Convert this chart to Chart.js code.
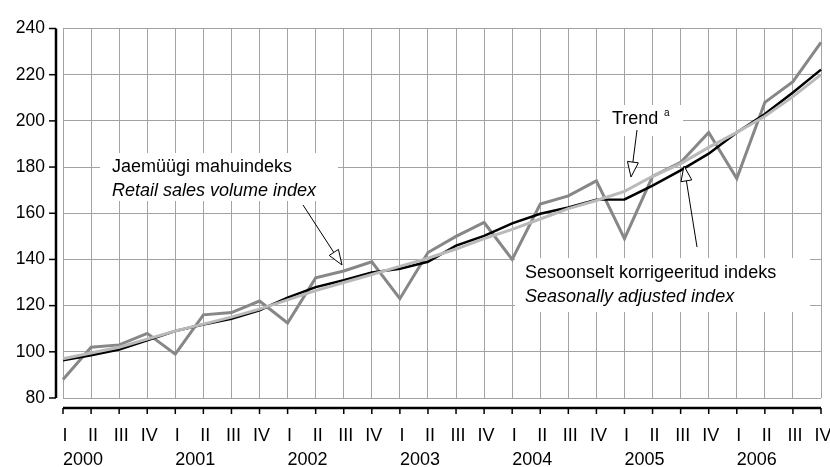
<!DOCTYPE html>
<html>
<head>
<meta charset="utf-8">
<script src="https://cdn.jsdelivr.net/npm/chart.js@4.4.0/dist/chart.umd.min.js"></script>
<style>
  html, body { margin: 0; padding: 0; background: #fff; }
  #wrap { width: 830px; height: 467px; }
</style>
</head>
<body>
<div id="wrap"><canvas id="myChart" width="830" height="467"></canvas></div>
<script>
// quarters and years along the x axis
const quarters = ['I', 'II', 'III', 'IV'];
const years = ['2000', '2001', '2002', '2003', '2004', '2005', '2006'];

// Jaemüügi mahuindeks / Retail sales volume index
const retailIndex = [
    88, 102, 103, 108,
    99, 116, 117, 122,
    112.5, 132, 135, 139,
    123, 143, 150, 156,
    140, 164, 167.5, 174,
    149, 176, 182, 195,
    175, 208, 217, 234
];
// Sesoonselt korrigeeritud indeks / Seasonally adjusted index
const seasonallyAdjusted = [
    96.3, 98.5, 101, 105,
    109, 111.8, 114.3, 118,
    123.5, 128, 131, 134.3,
    136, 139, 146, 150.2,
    155.6, 159.8, 162.5, 165.9,
    166, 172, 178.6, 185.8,
    195, 203, 212.3, 222.2
];
// Trend
const trend = [
    97, 99.5, 102, 105.5,
    109, 112, 115, 118.5,
    122.5, 126.5, 130, 133.5,
    137, 140.5, 144.5, 149,
    153, 157.5, 162, 165.5,
    169.5, 176, 181.5, 188.5,
    195, 202, 210.5, 220
];

const yMin = 80, yMax = 240, yStep = 20;

const labels = [];
years.forEach(y => quarters.forEach(q => labels.push(y + ' ' + q)));

const FONT = '"Liberation Sans", Arial, sans-serif';

// axes drawn by hand: offset y axis line and the x axis line below the plot
const axesPlugin = {
    id: 'axes',
    beforeDatasetsDraw(chart) {
        const ctx = chart.ctx;
        // white boxes behind the annotation texts
        ctx.save();
        ctx.fillStyle = '#fff';
        ctx.fillRect(100, 153, 238, 48);
        ctx.fillRect(600, 105, 83, 31);
        ctx.fillRect(515, 258, 295, 54);
        ctx.restore();
    },
    afterDraw(chart) {
        const ctx = chart.ctx;
        const xs = chart.scales.x, ys = chart.scales.y;
        const area = chart.chartArea;
        ctx.save();
        ctx.strokeStyle = '#000';

        // y axis
        const ax = area.left - 7;
        ctx.lineWidth = 2.5;
        ctx.beginPath();
        ctx.moveTo(ax, ys.getPixelForValue(yMax));
        ctx.lineTo(ax, ys.getPixelForValue(yMin));
        ctx.stroke();
        ctx.lineWidth = 1.5;
        for (let v = yMin; v <= yMax; v += yStep) {
            const py = ys.getPixelForValue(v);
            ctx.beginPath();
            ctx.moveTo(ax - 7, py);
            ctx.lineTo(ax, py);
            ctx.stroke();
        }

        // x axis
        const ay = area.bottom + 10;
        ctx.lineWidth = 2.5;
        ctx.beginPath();
        ctx.moveTo(xs.getPixelForValue(0), ay);
        ctx.lineTo(xs.getPixelForValue(labels.length - 1), ay);
        ctx.stroke();
        ctx.lineWidth = 1.5;
        ctx.fillStyle = '#000';
        ctx.font = '18px ' + FONT;
        ctx.textBaseline = 'middle';
        for (let i = 0; i < labels.length; i++) {
            const px = xs.getPixelForValue(i);
            ctx.beginPath();
            ctx.moveTo(px, ay);
            ctx.lineTo(px, ay + 6);
            ctx.stroke();
            ctx.textAlign = 'center';
            ctx.fillText(quarters[i % 4], px + 2, ay + 28);
            if (i % 4 === 0) {
                ctx.textAlign = 'left';
                ctx.fillText(years[i / 4], px, ay + 52);
            }
        }

        // annotation texts
        ctx.textBaseline = 'alphabetic';
        ctx.textAlign = 'left';
        ctx.font = '18px ' + FONT;
        ctx.fillText('Jaemüügi mahuindeks', 112, 172);
        ctx.fillText('Trend', 612, 124);
        ctx.fillText('Sesoonselt korrigeeritud indeks', 525, 278);
        ctx.font = 'italic 18px ' + FONT;
        ctx.fillText('Retail sales volume index', 112, 196);
        ctx.fillText('Seasonally adjusted index', 525, 302);
        ctx.font = '10px ' + FONT;
        ctx.fillText('a', 664, 116);

        // arrows
        const arrow = (x1, y1, x2, y2) => {
            const a = Math.atan2(y2 - y1, x2 - x1);
            const len = 15, hw = 5.5;
            const bx = x2 - len * Math.cos(a), by = y2 - len * Math.sin(a);
            ctx.lineWidth = 1;
            ctx.beginPath();
            ctx.moveTo(x1, y1);
            ctx.lineTo(bx, by);
            ctx.stroke();
            ctx.beginPath();
            ctx.moveTo(x2, y2);
            ctx.lineTo(bx + hw * Math.sin(a), by - hw * Math.cos(a));
            ctx.lineTo(bx - hw * Math.sin(a), by + hw * Math.cos(a));
            ctx.closePath();
            ctx.fillStyle = '#fff';
            ctx.fill();
            ctx.stroke();
        };
        arrow(303, 205, 342, 265);
        arrow(637, 130, 631, 177);
        arrow(697, 247, 684, 166);

        ctx.restore();
    }
};

const ctx = document.getElementById('myChart').getContext('2d');
const myChart = new Chart(ctx, {
    type: 'line',
    data: {
        labels: labels,
        datasets: [{
            label: 'Trend',
            data: trend,
            borderColor: '#b9b9b9',
            borderWidth: 3,
            order: 1
        }, {
            label: 'Sesoonselt korrigeeritud indeks',
            data: seasonallyAdjusted,
            borderColor: '#000',
            borderWidth: 2.5,
            order: 2
        }, {
            label: 'Jaemüügi mahuindeks',
            data: retailIndex,
            borderColor: '#878787',
            borderWidth: 3,
            order: 3
        }]
    },
    options: {
        responsive: false,
        animation: false,
        devicePixelRatio: 1,
        elements: {
            point: { radius: 0 },
            line: { tension: 0, fill: false, borderJoinStyle: 'miter' }
        },
        layout: { padding: { top: 20, right: 9, left: 0, bottom: 0 } },
        plugins: {
            legend: { display: false },
            tooltip: { enabled: false }
        },
        scales: {
            x: {
                type: 'category',
                offset: false,
                border: { display: false },
                grid: { color: '#a3a3a3', lineWidth: 1, drawTicks: false },
                ticks: { display: false, autoSkip: false },
                afterFit: s => { s.height = 69; }
            },
            y: {
                min: yMin,
                max: yMax,
                border: { display: false },
                grid: { color: '#a3a3a3', lineWidth: 1, drawTicks: false },
                ticks: {
                    stepSize: yStep,
                    padding: 18,
                    color: '#000',
                    font: { size: 17.5, family: FONT }
                },
                afterFit: s => { s.width = 63; }
            }
        }
    },
    plugins: [axesPlugin]
});
</script>
</body>
</html>
